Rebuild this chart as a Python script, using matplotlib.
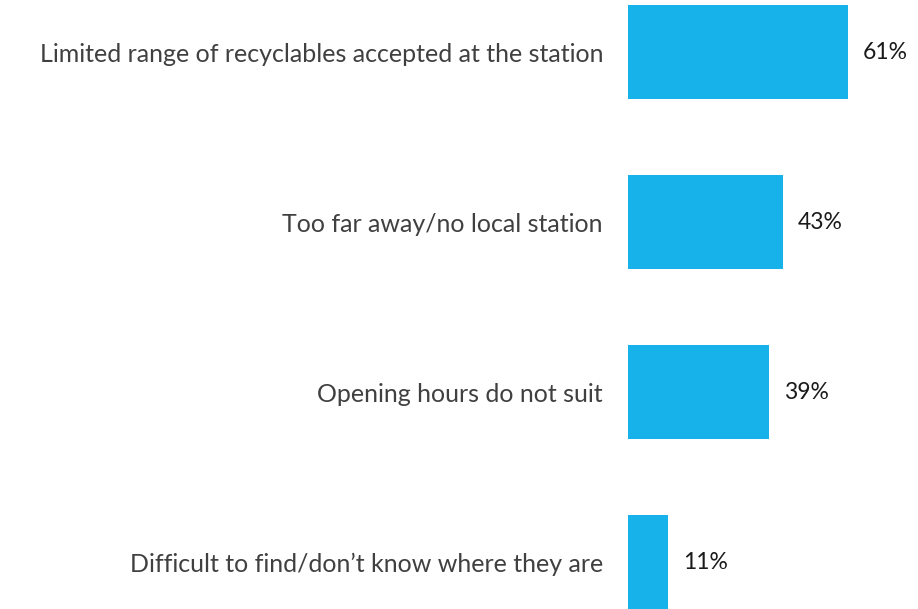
import matplotlib.pyplot as plt

categories = ["Limited range of recyclables accepted at the station",
              "Too far away/no local station",
              "Opening hours do not suit",
              "Difficult to find/don\u2019t know where they are"]
values = [61, 43, 39, 11]

plt.rcParams['font.family'] = ['Lato', 'DejaVu Sans']

fig = plt.figure(figsize=(9.18, 6.09), dpi=100)
ax = fig.add_axes([628/918, 0, 288.5/918, 1])

pos = list(range(len(values)))
ax.barh(pos, values, height=0.553, color='#17B2EA')
ax.set_xlim(0, 80)
ax.set_ylim(3.276, -0.306)

ax.set_yticks(pos)
ax.set_yticklabels(categories, fontsize=18, color='#404040')
ax.tick_params(axis='y', length=0, pad=18)
ax.set_xticks([])
for s in ax.spines.values():
    s.set_visible(False)

for p, v in zip(pos, values):
    ax.annotate(f"{v}%", (v, p), xytext=(15, 0), textcoords='offset pixels',
                va='center', ha='left', fontsize=16.5, color='#1a1a1a')

fig.savefig('out.png', dpi=100)
